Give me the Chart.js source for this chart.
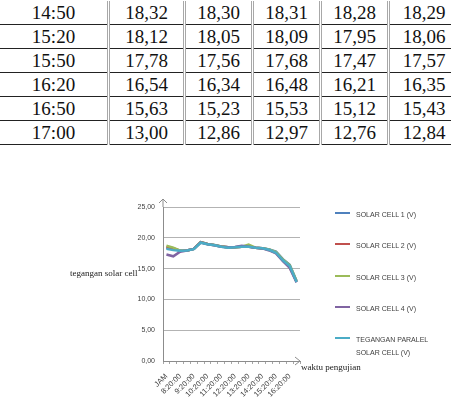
<!DOCTYPE html>
<html>
<head>
<meta charset="utf-8">
<script src="https://cdn.jsdelivr.net/npm/chart.js@4"></script>
<style>
  body { margin: 0; width: 451px; height: 412px; background: #fff; position: relative; overflow: hidden; }
  #tbl { position: absolute; left: 0; top: 1px; width: 443px; table-layout: fixed; border-collapse: collapse; font-family: "Liberation Serif", "Times New Roman", serif; font-size: 19px; color: #111; }
  #tbl td { height: 23px; padding: 0; text-align: center; border-bottom: 1px solid #222; border-left: 3px double #a8a8a8; line-height: 23px; }
  #tbl td:first-child { border-left: none; }
  #chartWrap { position: absolute; left: 0; top: 190px; width: 451px; height: 222px; }
  .axTitle { position: absolute; font-family: "Liberation Serif", "Times New Roman", serif; color: #222; white-space: nowrap; }
  #legend { position: absolute; left: 335px; top: 0; font-family: "Liberation Sans", sans-serif; font-size: 7px; color: #404040; }
  .lg { position: absolute; left: 0; white-space: nowrap; }
  .lg i { position: absolute; left: 0; top: 3px; width: 15px; height: 2px; }
  .lg span { position: absolute; left: 21px; top: -1px; line-height: 13px; }
</style>
</head>
<body>
<table id="tbl"></table>
<div id="chartWrap"><canvas id="chart" width="451" height="222"></canvas></div>
<div class="axTitle" style="left:70px; top:268px; font-size:9px;">tegangan solar cell</div>
<div class="axTitle" style="left:301px; top:362px; font-size:9px;">waktu pengujian</div>
<div id="legend"></div>
<script>
// table rows shown above the chart
const tableTimes = ['14:50', '15:20', '15:50', '16:20', '16:50', '17:00'];
const tableRows = [
  ['18,32', '18,30', '18,31', '18,28', '18,29'],
  ['18,12', '18,05', '18,09', '17,95', '18,06'],
  ['17,78', '17,56', '17,68', '17,47', '17,57'],
  ['16,54', '16,34', '16,48', '16,21', '16,35'],
  ['15,63', '15,23', '15,53', '15,12', '15,43'],
  ['13,00', '12,86', '12,97', '12,76', '12,84']
];

// chart data
const categories = ['JAM', '7:50:00', '8:20:00', '8:50:00', '9:20:00', '9:50:00', '10:20:00', '10:50:00',
  '11:20:00', '11:50:00', '12:20:00', '12:50:00', '13:20:00', '13:50:00', '14:20:00', '14:50:00',
  '15:20:00', '15:50:00', '16:20:00', '16:50:00'];
const seriesNames = ['SOLAR CELL 1 (V)', 'SOLAR CELL 2 (V)', 'SOLAR CELL 3 (V)', 'SOLAR CELL 4 (V)', 'TEGANGAN PARALEL SOLAR CELL (V)'];
const seriesColors = ['#4F81BD', '#C0504D', '#9BBB59', '#8064A2', '#4BACC6'];
const cell1 = [18.40, 18.20, 17.90, 17.95, 18.20, 19.30, 19.00, 18.85, 18.60, 18.45, 18.45, 18.55, 18.60, 18.40, 18.32, 18.12, 17.78, 16.54, 15.63, 13.00];
const cell2 = [18.50, 18.30, 17.90, 17.95, 18.20, 19.30, 19.00, 18.80, 18.60, 18.45, 18.45, 18.55, 18.60, 18.40, 18.30, 18.05, 17.56, 16.34, 15.23, 12.86];
const cell3 = [18.70, 18.40, 17.90, 17.95, 18.20, 19.30, 19.00, 18.85, 18.60, 18.45, 18.45, 18.55, 18.90, 18.40, 18.31, 18.09, 17.68, 16.48, 15.53, 12.97];
const cell4 = [17.30, 17.00, 17.75, 17.95, 18.20, 19.25, 18.95, 18.80, 18.55, 18.45, 18.50, 18.70, 18.55, 18.40, 18.28, 17.95, 17.47, 16.21, 15.12, 12.76];
const paralel = [18.20, 18.00, 17.90, 17.95, 18.15, 19.20, 18.95, 18.80, 18.55, 18.40, 18.45, 18.55, 18.55, 18.40, 18.29, 18.06, 17.57, 16.35, 15.43, 12.84];
const yTicks = { min: 0, max: 25, step: 5 };

const tbl = document.getElementById('tbl');
const colWidths = [107, 73, 65, 65, 65, 68];
tableTimes.forEach((t, r) => {
  const tr = document.createElement('tr');
  [t].concat(tableRows[r]).forEach((txt, c) => {
    const td = document.createElement('td');
    td.textContent = txt;
    td.style.width = colWidths[c] + 'px';
    tr.appendChild(td);
  });
  tbl.appendChild(tr);
});

const allSeries = [cell1, cell2, cell3, cell4, paralel];
const font = { family: '"Liberation Sans", sans-serif', size: 7 };

// arrow heads on the axes, like the original
const axisArrows = {
  id: 'axisArrows',
  afterDraw(chart) {
    const { ctx, chartArea: a } = chart;
    ctx.save();
    ctx.strokeStyle = '#8c8c8c';
    ctx.lineWidth = 1;
    ctx.beginPath();
    ctx.moveTo(a.left, a.top);
    ctx.lineTo(a.left, a.top - 8);
    ctx.moveTo(a.left - 4, a.top - 4);
    ctx.lineTo(a.left, a.top - 8);
    ctx.lineTo(a.left + 4, a.top - 4);
    ctx.moveTo(a.right - 5, a.bottom - 4);
    ctx.lineTo(a.right, a.bottom);
    ctx.lineTo(a.right - 5, a.bottom + 4);
    ctx.stroke();
    ctx.restore();
  }
};

new Chart(document.getElementById('chart').getContext('2d'), {
  type: 'line',
  data: {
    labels: categories,
    datasets: allSeries.map((d, i) => ({
      label: seriesNames[i],
      data: d,
      borderColor: seriesColors[i],
      backgroundColor: seriesColors[i],
      borderWidth: 2.5,
      pointRadius: 0,
      tension: 0,
      fill: false,
      order: 4 - i
    }))
  },
  options: {
    responsive: false,
    animation: false,
    layout: { padding: { left: 0, right: 151, top: 17, bottom: 11 } },
    plugins: { legend: { display: false }, tooltip: { enabled: false } },
    scales: {
      x: {
        offset: true,
        grid: { offset: true, drawOnChartArea: false, tickLength: 3, color: '#a6a6a6' },
        border: { color: '#8c8c8c' },
        ticks: {
          autoSkip: false, maxRotation: 45, minRotation: 45, padding: 8,
          font: { family: font.family, size: 7.5 }, color: '#404040',
          callback(v, i) { return i % 2 === 0 ? this.getLabelForValue(v) : ''; }
        },
        afterFit(s) { s.height = 40; }
      },
      y: {
        min: yTicks.min, max: yTicks.max,
        grid: { color: '#b3b3b3', drawTicks: false },
        border: { color: '#8c8c8c' },
        ticks: {
          stepSize: yTicks.step, padding: 8, font: font, color: '#404040',
          callback: v => v.toFixed(2).replace('.', ',')
        },
        afterFit(s) { s.width = 163; }
      }
    }
  },
  plugins: [axisArrows]
});

// legend on the right
const legend = document.getElementById('legend');
const legendTops = [209, 240, 272, 303, 334];
seriesNames.forEach((name, i) => {
  const div = document.createElement('div');
  div.className = 'lg';
  div.style.top = legendTops[i] + 'px';
  const sw = document.createElement('i');
  sw.style.background = seriesColors[i];
  const sp = document.createElement('span');
  if (i === 4) {
    sp.innerHTML = 'TEGANGAN PARALEL<br>SOLAR CELL (V)';
  } else {
    sp.textContent = name;
  }
  div.appendChild(sw);
  div.appendChild(sp);
  legend.appendChild(div);
});
</script>
</body>
</html>
